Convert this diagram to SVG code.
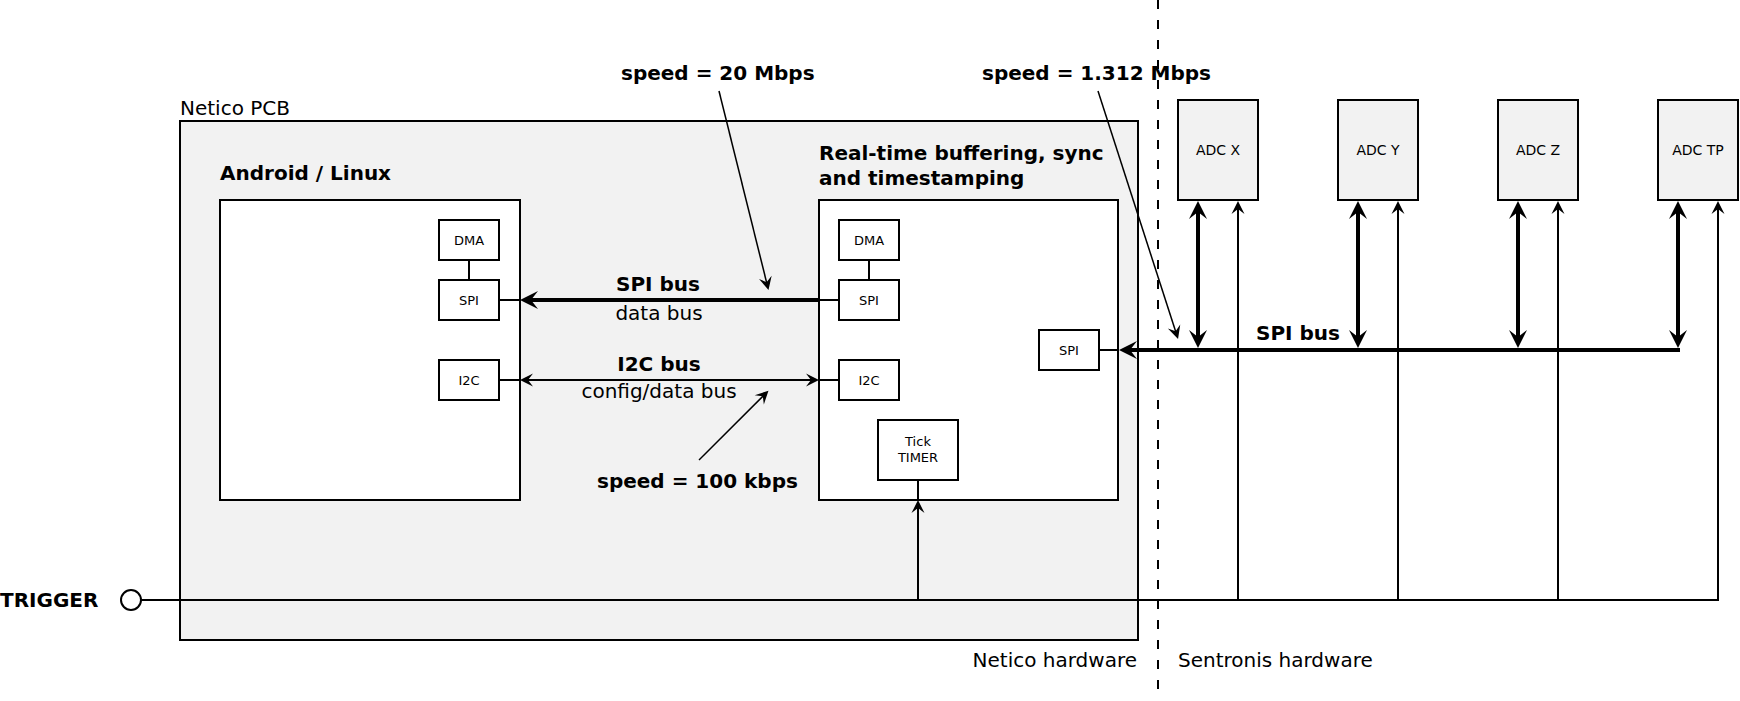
<svg xmlns="http://www.w3.org/2000/svg" width="1740" height="701" viewBox="0 0 1740 701">
<style>
text{font-family:"DejaVu Sans","Liberation Sans",sans-serif;fill:#000}
.b{font-weight:bold;font-size:20px}
.n{font-size:20px}
.s{font-size:13px}
.a{font-size:14px}
.box{fill:#fff;stroke:#000;stroke-width:2}
.gray{fill:#f2f2f2;stroke:#000;stroke-width:2}
.ln{fill:none;stroke:#000;stroke-width:2}
.th{fill:none;stroke:#000;stroke-width:4}
.an{fill:none;stroke:#000;stroke-width:1.5}
</style>
<defs>
<marker id="ak" viewBox="-20 -10 22 20" refX="-10" refY="0" markerWidth="22" markerHeight="20" markerUnits="userSpaceOnUse" orient="auto-start-reverse"><path d="M0,0 L-18,-9 L-11,0 L-18,9 Z" fill="#000"/></marker>
<marker id="at" viewBox="-15 -8 17 16" refX="-7" refY="0" markerWidth="17" markerHeight="16" markerUnits="userSpaceOnUse" orient="auto-start-reverse"><path d="M0,0 L-13,-6.5 L-8,0 L-13,6.5 Z" fill="#000"/></marker>
</defs>

<g id="pcb">
<rect class="gray" x="180" y="121" width="958" height="519"/>
<text class="n" x="180" y="115">Netico PCB</text>
</g>

<g id="android">
<rect class="box" x="220" y="200" width="300" height="300"/>
<text class="b" x="220" y="180">Android / Linux</text>
</g>
<g id="android-dma"><rect class="box" x="439" y="220" width="60" height="40"/><text class="s" x="469" y="245" text-anchor="middle">DMA</text></g>
<g id="android-spi"><rect class="box" x="439" y="280" width="60" height="40"/><text class="s" x="469" y="305" text-anchor="middle">SPI</text></g>
<g id="android-i2c"><rect class="box" x="439" y="360" width="60" height="40"/><text class="s" x="469" y="385" text-anchor="middle">I2C</text></g>

<g id="realtime">
<rect class="box" x="819" y="200" width="299" height="300"/>
<text class="b" x="819" y="160">Real-time buffering, sync</text>
<text class="b" x="819" y="185">and timestamping</text>
</g>
<g id="rt-dma"><rect class="box" x="839" y="220" width="60" height="40"/><text class="s" x="869" y="245" text-anchor="middle">DMA</text></g>
<g id="rt-spi"><rect class="box" x="839" y="280" width="60" height="40"/><text class="s" x="869" y="305" text-anchor="middle">SPI</text></g>
<g id="rt-i2c"><rect class="box" x="839" y="360" width="60" height="40"/><text class="s" x="869" y="385" text-anchor="middle">I2C</text></g>
<g id="rt-spi2"><rect class="box" x="1039" y="330" width="60" height="40"/><text class="s" x="1069" y="355" text-anchor="middle">SPI</text></g>
<g id="tick-timer"><rect class="box" x="878" y="420" width="80" height="60"/><text class="s" x="918" y="446" text-anchor="middle">Tick</text><text class="s" x="918" y="462" text-anchor="middle">TIMER</text></g>

<g id="adc-x"><rect class="gray" x="1178" y="100" width="80" height="100"/><text class="a" x="1218" y="155" text-anchor="middle">ADC X</text></g>
<g id="adc-y"><rect class="gray" x="1338" y="100" width="80" height="100"/><text class="a" x="1378" y="155" text-anchor="middle">ADC Y</text></g>
<g id="adc-z"><rect class="gray" x="1498" y="100" width="80" height="100"/><text class="a" x="1538" y="155" text-anchor="middle">ADC Z</text></g>
<g id="adc-tp"><rect class="gray" x="1658" y="100" width="80" height="100"/><text class="a" x="1698" y="155" text-anchor="middle">ADC TP</text></g>

<g id="trigger">
<circle cx="131" cy="600" r="10" fill="#fff" stroke="#000" stroke-width="2"/>
<text class="b" x="0" y="607">TRIGGER</text>
</g>

<g id="connectors">
<line class="ln" x1="469" y1="260" x2="469" y2="280"/>
<line class="ln" x1="869" y1="260" x2="869" y2="280"/>
<line class="ln" x1="499" y1="300" x2="520" y2="300"/>
<line class="ln" x1="819" y1="300" x2="839" y2="300"/>
<line class="th" x1="819" y1="300" x2="530" y2="300" marker-end="url(#ak)"/>
<line class="ln" x1="499" y1="380" x2="520" y2="380"/>
<line class="ln" x1="819" y1="380" x2="839" y2="380"/>
<line class="ln" x1="527" y1="380" x2="812" y2="380" marker-start="url(#at)" marker-end="url(#at)"/>
<line class="ln" x1="1099" y1="350" x2="1118" y2="350"/>
<line class="th" x1="1680" y1="350" x2="1129" y2="350" marker-end="url(#ak)"/>
<line class="th" x1="1198" y1="211" x2="1198" y2="338" marker-start="url(#ak)" marker-end="url(#ak)"/>
<line class="th" x1="1358" y1="211" x2="1358" y2="338" marker-start="url(#ak)" marker-end="url(#ak)"/>
<line class="th" x1="1518" y1="211" x2="1518" y2="338" marker-start="url(#ak)" marker-end="url(#ak)"/>
<line class="th" x1="1678" y1="211" x2="1678" y2="338" marker-start="url(#ak)" marker-end="url(#ak)"/>
<path class="ln" d="M141,600 H1718 V208" marker-end="url(#at)"/>
<line class="ln" x1="1238" y1="600" x2="1238" y2="208" marker-end="url(#at)"/>
<line class="ln" x1="1398" y1="600" x2="1398" y2="208" marker-end="url(#at)"/>
<line class="ln" x1="1558" y1="600" x2="1558" y2="208" marker-end="url(#at)"/>
<line class="ln" x1="918" y1="600" x2="918" y2="507" marker-end="url(#at)"/>
<line class="ln" x1="918" y1="480" x2="918" y2="500"/>
<line class="an" x1="719" y1="91" x2="766.8" y2="283.2" marker-end="url(#at)"/>
<line class="an" x1="1098" y1="91" x2="1175.9" y2="332.3" marker-end="url(#at)"/>
<line class="an" x1="699" y1="460" x2="763.5" y2="395.6" marker-end="url(#at)"/>
<line x1="1158" y1="0" x2="1158" y2="690" stroke="#000" stroke-width="2" stroke-dasharray="9,11"/>
</g>

<g id="labels">
<text class="b" x="621" y="80">speed = 20 Mbps</text>
<text class="b" x="982" y="80">speed = 1.312 Mbps</text>
<text class="b" x="597" y="488">speed = 100 kbps</text>
<text class="b" x="658" y="291" text-anchor="middle">SPI bus</text>
<text class="n" x="659" y="320" text-anchor="middle">data bus</text>
<text class="b" x="659" y="371" text-anchor="middle">I2C bus</text>
<text class="n" x="659" y="398" text-anchor="middle">config/data bus</text>
<text class="b" x="1256" y="340">SPI bus</text>
<text class="n" x="1137" y="667" text-anchor="end">Netico hardware</text>
<text class="n" x="1178" y="667">Sentronis hardware</text>
</g>
</svg>
